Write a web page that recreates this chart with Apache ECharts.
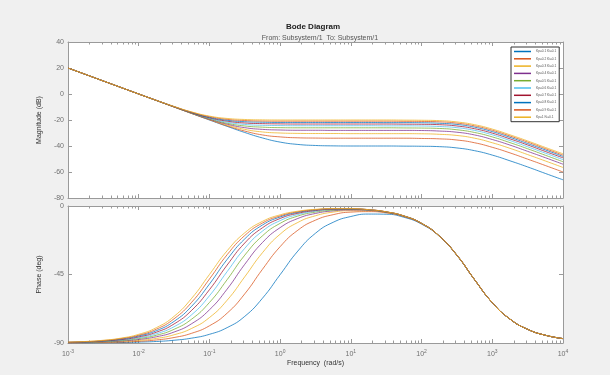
<!DOCTYPE html>
<html>
<head>
<meta charset="utf-8">
<script src="https://cdn.jsdelivr.net/npm/echarts@6/dist/echarts.min.js"></script>
<style>
  html, body { margin: 0; padding: 0; background: #f0f0f0; }
  #chart { width: 610px; height: 375px; }
</style>
</head>
<body>
<div id="chart"></div>
<script>
// frequency points (rad/s), quarter decades
const freq = [0.001, 0.00178, 0.00316, 0.00562, 0.01, 0.0178, 0.0316, 0.0562, 0.1, 0.178, 0.316, 0.562,
  1, 1.78, 3.16, 5.62, 10, 17.8, 31.6, 56.2, 100, 178, 316, 562, 1000, 1780, 3160, 5620, 10000];

// magnitude (dB)
const mag01 = [20, 15, 10, 5, 0, -5.0, -10.0, -15.0, -20.0, -24.9, -29.6, -33.8, -37.0, -38.8, -39.6, -39.9, -40.0, -40.0, -40.0, -40.1, -40.2, -40.5, -41.5, -43.6, -47.0, -51.4, -56.1, -61.1, -66.0];
const mag02 = [20, 15, 10, 5, 0, -5.0, -10.0, -15.0, -19.8, -24.5, -28.5, -31.5, -33.0, -33.7, -33.9, -34.0, -34.0, -34.0, -34.0, -34.0, -34.2, -34.5, -35.4, -37.5, -41.0, -45.3, -50.1, -55.0, -60.0];
const mag03 = [20, 15, 10, 5, 0, -5.0, -10.0, -14.9, -19.6, -23.9, -27.2, -29.2, -30.0, -30.3, -30.4, -30.4, -30.5, -30.5, -30.5, -30.5, -30.6, -31.0, -31.9, -34.0, -37.5, -41.8, -46.6, -51.5, -56.5];
const mag04 = [20, 15, 10, 5, 0, -5.0, -9.9, -14.8, -19.4, -23.2, -25.9, -27.2, -27.7, -27.9, -27.9, -28.0, -28.0, -28.0, -28.0, -28.0, -28.1, -28.5, -29.4, -31.5, -35.0, -39.3, -44.1, -49.0, -54.0];
const mag05 = [20, 15, 10, 5, 0, -5.0, -9.9, -14.7, -19.0, -22.5, -24.6, -25.5, -25.9, -26.0, -26.0, -26.0, -26.0, -26.0, -26.0, -26.1, -26.2, -26.5, -27.5, -29.6, -33.0, -37.4, -42.1, -47.1, -52.1];
const mag06 = [20, 15, 10, 5, 0, -4.9, -9.8, -14.5, -18.7, -21.7, -23.4, -24.1, -24.3, -24.4, -24.4, -24.4, -24.4, -24.4, -24.5, -24.5, -24.6, -25.0, -25.9, -28.0, -31.4, -35.8, -40.6, -45.5, -50.5];
const mag07 = [20, 15, 10, 5, 0, -4.9, -9.8, -14.4, -18.3, -20.9, -22.3, -22.8, -23.0, -23.1, -23.1, -23.1, -23.1, -23.1, -23.1, -23.2, -23.3, -23.6, -24.6, -26.7, -30.1, -34.5, -39.2, -44.2, -49.1];
const mag08 = [20, 15, 10, 5, 0, -4.9, -9.7, -14.2, -17.9, -20.2, -21.3, -21.7, -21.9, -21.9, -21.9, -21.9, -21.9, -21.9, -22.0, -22.0, -22.1, -22.5, -23.4, -25.5, -28.9, -33.3, -38.1, -43.0, -48.0];
const mag09 = [20, 15, 10, 5, 0, -4.9, -9.7, -14.0, -17.4, -19.5, -20.4, -20.8, -20.9, -20.9, -20.9, -20.9, -20.9, -20.9, -20.9, -21.0, -21.1, -21.4, -22.4, -24.5, -27.9, -32.3, -37.0, -42.0, -47.0];
const mag10 = [20, 15, 10, 5, 0, -4.9, -9.6, -13.8, -17.0, -18.8, -19.6, -19.9, -20.0, -20.0, -20.0, -20.0, -20.0, -20.0, -20.0, -20.1, -20.2, -20.5, -21.5, -23.6, -27.0, -31.4, -36.1, -41.1, -46.0];

// phase (deg)
const ph01 = [-89.9, -89.9, -89.8, -89.7, -89.4, -89.0, -88.2, -86.8, -84.3, -79.9, -72.5, -60.6, -45.1, -29.6, -17.9, -10.7, -6.9, -5.3, -5.4, -7.4, -11.9, -19.9, -32.5, -48.5, -63.5, -74.3, -81.0, -84.9, -87.2];
const ph02 = [-89.9, -89.8, -89.6, -89.4, -88.9, -88.0, -86.4, -83.6, -78.7, -70.4, -57.7, -41.6, -26.7, -15.9, -9.3, -5.7, -4.0, -3.7, -4.5, -6.9, -11.6, -19.8, -32.4, -48.4, -63.5, -74.3, -81.0, -84.9, -87.1];
const ph03 = [-89.8, -89.7, -89.5, -89.0, -88.3, -87.0, -84.6, -80.4, -73.3, -61.9, -46.5, -30.7, -18.5, -10.8, -6.4, -4.0, -3.1, -3.1, -4.2, -6.8, -11.5, -19.7, -32.4, -48.4, -63.5, -74.3, -81.0, -84.9, -87.1];
const ph04 = [-89.8, -89.6, -89.3, -88.7, -87.7, -85.9, -82.8, -77.3, -68.2, -54.6, -38.3, -24.0, -14.2, -8.2, -4.9, -3.2, -2.6, -2.9, -4.1, -6.7, -11.5, -19.7, -32.3, -48.4, -63.5, -74.3, -81.0, -84.9, -87.1];
const ph05 = [-89.7, -89.5, -89.1, -88.4, -87.1, -84.9, -81.0, -74.3, -63.4, -48.4, -32.3, -19.6, -11.4, -6.6, -4.0, -2.7, -2.3, -2.7, -4.0, -6.6, -11.4, -19.7, -32.3, -48.4, -63.5, -74.3, -81.0, -84.9, -87.1];
const ph06 = [-89.7, -89.4, -88.9, -88.1, -86.6, -83.9, -79.3, -71.4, -59.0, -43.1, -27.8, -16.5, -9.6, -5.6, -3.4, -2.3, -2.1, -2.6, -3.9, -6.6, -11.4, -19.7, -32.3, -48.4, -63.5, -74.3, -81.0, -84.9, -87.1];
const ph07 = [-89.6, -89.3, -88.7, -87.8, -86.0, -82.9, -77.5, -68.5, -55.0, -38.8, -24.3, -14.3, -8.2, -4.8, -3.0, -2.1, -2.0, -2.5, -3.9, -6.6, -11.4, -19.7, -32.3, -48.4, -63.5, -74.3, -81.0, -84.9, -87.1];
const ph08 = [-89.5, -89.2, -88.6, -87.4, -85.4, -81.9, -75.8, -65.8, -51.3, -35.1, -21.6, -12.5, -7.2, -4.2, -2.6, -1.9, -1.9, -2.4, -3.9, -6.5, -11.4, -19.7, -32.3, -48.4, -63.5, -74.3, -81.0, -84.9, -87.1];
const ph09 = [-89.5, -89.1, -88.4, -87.1, -84.9, -80.9, -74.1, -63.2, -48.0, -32.0, -19.4, -11.2, -6.5, -3.8, -2.4, -1.8, -1.8, -2.4, -3.8, -6.5, -11.4, -19.7, -32.3, -48.4, -63.5, -74.3, -81.0, -84.9, -87.1];
const ph10 = [-89.4, -89.0, -88.2, -86.8, -84.3, -79.9, -72.5, -60.6, -45.0, -29.4, -17.6, -10.1, -5.8, -3.4, -2.2, -1.7, -1.7, -2.4, -3.8, -6.5, -11.4, -19.7, -32.3, -48.4, -63.5, -74.3, -81.0, -84.9, -87.1];

const labels = ['Kp=0.1 Ki=0.1', 'Kp=0.2 Ki=0.1', 'Kp=0.3 Ki=0.1', 'Kp=0.4 Ki=0.1', 'Kp=0.5 Ki=0.1',
  'Kp=0.6 Ki=0.1', 'Kp=0.7 Ki=0.1', 'Kp=0.8 Ki=0.1', 'Kp=0.9 Ki=0.1', 'Kp=1 Ki=0.1'];
const colors = ['#0072BD', '#D95319', '#EDB120', '#7E2F8E', '#77AC30', '#4DBEEE', '#A2142F', '#0072BD', '#D95319', '#EDB120'];

const magSets = [mag01, mag02, mag03, mag04, mag05, mag06, mag07, mag08, mag09, mag10];
const phSets = [ph01, ph02, ph03, ph04, ph05, ph06, ph07, ph08, ph09, ph10];

// minor tick positions of the log axis (2..9 of each decade)
const minorTicks = [];
for (let e = -3; e < 4; e++) {
  for (let m = 2; m <= 9; m++) minorTicks.push(m * Math.pow(10, e));
}

const FONT = 'Liberation Sans, Arial, sans-serif';
const AX = '#9a9a9a';
const LBL = '#707070';

const chart = echarts.init(document.getElementById('chart'));

const xBase = (gridIndex, position, showLabel) => ({
  type: 'log',
  logBase: 10,
  gridIndex: gridIndex,
  position: position,
  min: 0.001,
  max: 10000,
  splitNumber: 7,
  axisLine: { show: true, onZero: false, lineStyle: { color: AX, width: 1 } },
  axisTick: { show: true, inside: true, length: 4, lineStyle: { color: AX } },
  splitLine: { show: false },
  axisLabel: {
    show: showLabel,
    margin: 6,
    formatter: (v) => '{b|10}{s|' + Math.round(Math.log10(v)) + '}',
    rich: {
      b: { fontSize: 7, color: LBL, fontFamily: FONT },
      s: { fontSize: 5, color: LBL, fontFamily: FONT, verticalAlign: 'top', padding: [0, 0, 5, 0] }
    }
  }
});

const yBase = (gridIndex, position, min, max, interval, showLabel, name) => ({
  type: 'value',
  gridIndex: gridIndex,
  position: position,
  min: min,
  max: max,
  interval: interval,
  name: name,
  nameLocation: 'middle',
  nameGap: 15,
  nameTextStyle: { fontSize: 7, color: '#333', fontFamily: FONT },
  axisLine: { show: true, lineStyle: { color: AX, width: 1 } },
  axisTick: { show: true, inside: true, length: 4, lineStyle: { color: AX } },
  splitLine: { show: false },
  axisLabel: { show: showLabel, fontSize: 7, color: LBL, margin: 4, fontFamily: FONT }
});

const minorTickSeries = (xIdx, yIdx, yVal) => ({
  type: 'custom',
  xAxisIndex: xIdx,
  yAxisIndex: yIdx,
  silent: true,
  clip: false,
  data: minorTicks.map((v) => [v, yVal]),
  renderItem: (params, api) => {
    const x = Math.round(api.coord([api.value(0), api.value(1)])[0]) + 0.5;
    const cs = params.coordSys;
    const st = { stroke: AX, lineWidth: 1 };
    return {
      type: 'group',
      children: [
        { type: 'line', shape: { x1: x, y1: cs.y, x2: x, y2: cs.y + 2.5 }, style: st },
        { type: 'line', shape: { x1: x, y1: cs.y + cs.height, x2: x, y2: cs.y + cs.height - 2.5 }, style: st }
      ]
    };
  }
});

const series = [];
magSets.forEach((arr, k) => {
  series.push({
    name: labels[k], type: 'line', xAxisIndex: 0, yAxisIndex: 0,
    data: freq.map((f, i) => [f, arr[i]]),
    showSymbol: false, smooth: 0.5,
    lineStyle: { width: 1, color: colors[k], opacity: 0.75 },
    itemStyle: { color: colors[k] }
  });
});
phSets.forEach((arr, k) => {
  series.push({
    name: labels[k], type: 'line', xAxisIndex: 2, yAxisIndex: 2,
    data: freq.map((f, i) => [f, arr[i]]),
    showSymbol: false, smooth: 0.5,
    lineStyle: { width: 1, color: colors[k], opacity: 0.75 },
    itemStyle: { color: colors[k] }
  });
});
series.push(minorTickSeries(0, 0, 0));
series.push(minorTickSeries(2, 2, -45));

chart.setOption({
  animation: false,
  backgroundColor: '#f0f0f0',
  textStyle: { fontFamily: FONT },
  title: [
    { text: 'Bode Diagram', left: 308, top: 18, textAlign: 'center',
      textStyle: { fontSize: 8, fontWeight: 'bold', color: '#222', fontFamily: FONT } },
    { text: 'From: Subsystem/1  To: Subsystem/1', left: 315, top: 30, textAlign: 'center',
      textStyle: { fontSize: 7, fontWeight: 'normal', color: '#555', fontFamily: FONT } }
  ],
  legend: {
    data: labels,
    orient: 'vertical',
    left: 511,
    top: 47,
    padding: [3, 3, 3, 3],
    itemGap: 4.3,
    itemWidth: 17,
    itemHeight: 1.5,
    icon: 'rect',
    backgroundColor: '#fff',
    borderColor: '#333',
    borderWidth: 1,
    textStyle: { fontSize: 3.2, color: '#555', fontFamily: FONT }
  },
  grid: [
    { left: 68, top: 42, width: 495, height: 156, show: true, backgroundColor: '#fff', borderWidth: 0 },
    { left: 68, top: 206, width: 495, height: 137, show: true, backgroundColor: '#fff', borderWidth: 0 }
  ],
  xAxis: [
    xBase(0, 'bottom', false),
    xBase(0, 'top', false),
    Object.assign(xBase(1, 'bottom', true), {
      name: 'Frequency  (rad/s)', nameLocation: 'middle', nameGap: 17,
      nameTextStyle: { fontSize: 7, color: '#333', fontFamily: FONT }
    }),
    xBase(1, 'top', false)
  ],
  yAxis: [
    yBase(0, 'left', -80, 40, 20, true, 'Magnitude (dB)'),
    yBase(0, 'right', -80, 40, 20, false, ''),
    yBase(1, 'left', -90, 0, 45, true, 'Phase (deg)'),
    yBase(1, 'right', -90, 0, 45, false, '')
  ],
  series: series
});
</script>
</body>
</html>
